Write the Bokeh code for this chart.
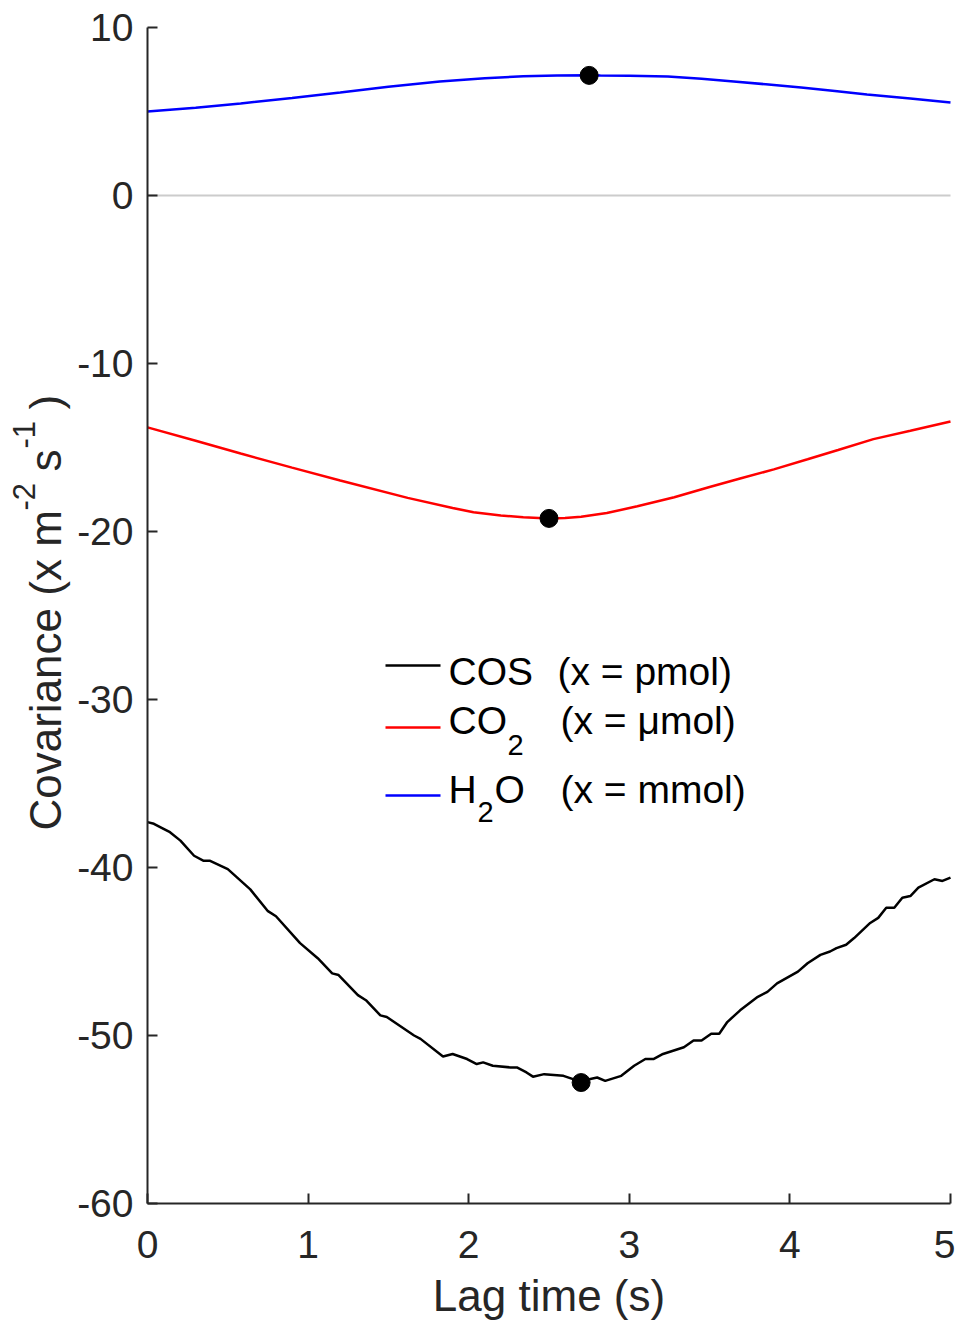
import numpy as np
from bokeh.plotting import figure
from bokeh.models import Range1d, Label, FixedTicker, LinearAxis
from bokeh.embed import file_html
from bokeh.resources import INLINE

# ---------------- data ----------------
lag_cos = [0.00, 0.04, 0.10, 0.14, 0.205, 0.29, 0.35, 0.39, 0.50, 0.64, 0.75, 0.80, 0.95, 1.06,
           1.15, 1.19, 1.31, 1.36, 1.45, 1.49, 1.66, 1.70, 1.84, 1.90, 1.99, 2.05, 2.09, 2.15,
           2.26, 2.30, 2.36, 2.40, 2.47, 2.59, 2.65, 2.70, 2.75, 2.80, 2.85, 2.95, 3.03, 3.10,
           3.15, 3.21, 3.34, 3.40, 3.45, 3.51, 3.56, 3.61, 3.69, 3.80, 3.86, 3.92, 4.05, 4.11,
           4.19, 4.25, 4.29, 4.35, 4.40, 4.50, 4.55, 4.60, 4.65, 4.70, 4.75, 4.80, 4.90, 4.95, 5.00]
cov_cos = [-37.3, -37.4, -37.7, -37.9, -38.4, -39.3, -39.6, -39.6, -40.1, -41.3, -42.6, -42.9, -44.5, -45.4,
           -46.3, -46.4, -47.6, -47.9, -48.8, -48.9, -50.0, -50.2, -51.25, -51.1, -51.4, -51.7, -51.6, -51.8,
           -51.9, -51.9, -52.2, -52.45, -52.3, -52.4, -52.6, -52.75, -52.6, -52.5, -52.7, -52.4, -51.8, -51.4,
           -51.4, -51.1, -50.7, -50.3, -50.3, -49.9, -49.9, -49.2, -48.5, -47.7, -47.4, -46.9, -46.2, -45.7,
           -45.2, -45.0, -44.8, -44.6, -44.2, -43.3, -43.0, -42.4, -42.4, -41.8, -41.7, -41.2, -40.7, -40.8, -40.6]

lag_co2 = [0.00, 0.30, 0.58, 0.90, 1.20, 1.62, 1.90, 2.03, 2.20, 2.34, 2.50, 2.60, 2.70, 2.86,
           3.05, 3.28, 3.50, 3.69, 3.90, 4.11, 4.30, 4.52, 4.75, 5.00]
cov_co2 = [-13.8, -14.6, -15.36, -16.2, -16.96, -18.0, -18.6, -18.85, -19.05, -19.15, -19.22, -19.2, -19.12, -18.9,
           -18.5, -17.96, -17.35, -16.85, -16.3, -15.7, -15.15, -14.5, -14.0, -13.45]

lag_h2o = [0.00, 0.30, 0.58, 0.90, 1.20, 1.50, 1.82, 2.10, 2.34, 2.55, 2.75, 2.82, 3.00, 3.24,
           3.45, 3.65, 3.85, 4.07, 4.28, 4.48, 4.75, 5.00]
cov_h2o = [5.00, 5.23, 5.48, 5.80, 6.13, 6.47, 6.79, 6.98, 7.10, 7.15, 7.16, 7.15, 7.13, 7.08,
           6.95, 6.79, 6.62, 6.43, 6.22, 6.01, 5.78, 5.54]

peak_lag = [2.70, 2.50, 2.75]
peak_cov = [-52.8, -19.22, 7.15]

zero_lag = [0, 5]
zero_cov = [0, 0]

x_ticks = [0, 1, 2, 3, 4, 5]
y_ticks = [-60, -50, -40, -30, -20, -10, 0, 10]
x_lim = (0, 5)
y_lim = (-60, 10)

# ---------------- layout ----------------
FONT = "Liberation Sans"
AX = "#262626"
W, H = 955, 1322
# frame pixel box of the axes (page pixels)
PX0, PX1, PY0, PY1 = 147, 950, 27, 1203

sx = (PX1 - PX0) / (x_lim[1] - x_lim[0])
sy = (PY1 - PY0) / (y_lim[1] - y_lim[0])
xr = Range1d(x_lim[0] - PX0 / sx, x_lim[1] + (W - PX1) / sx)
yr = Range1d(y_lim[0] - (H - PY1) / sy, y_lim[1] + PY0 / sy)

p = figure(width=W, height=H, output_backend="svg", toolbar_location=None,
           x_range=xr, y_range=yr, x_axis_location=None, y_axis_location=None,
           min_border_left=0, min_border_right=0, min_border_top=0, min_border_bottom=0)
p.outline_line_color = None
p.grid.visible = False
p.background_fill_color = "white"
p.border_fill_color = "white"

xaxis = LinearAxis(fixed_location=y_lim[0], bounds=x_lim, ticker=FixedTicker(ticks=x_ticks))
yaxis = LinearAxis(fixed_location=x_lim[0], bounds=y_lim, ticker=FixedTicker(ticks=y_ticks))
for ax in (xaxis, yaxis):
    ax.axis_line_color = AX
    ax.axis_line_width = 2
    ax.major_tick_line_color = AX
    ax.major_tick_line_width = 2
    ax.major_tick_in = 10
    ax.major_tick_out = 0
    ax.minor_tick_line_color = None
    ax.major_label_text_font = FONT
    ax.major_label_text_font_size = "39px"
    ax.major_label_text_color = AX
    ax.axis_label_text_font = FONT
    ax.axis_label_text_font_style = "normal"
    ax.axis_label_text_color = AX
yaxis.major_label_overrides = {t: str(t) for t in y_ticks}
xaxis.major_label_overrides = {t: str(t) for t in x_ticks}
xaxis.major_label_standoff = 27
yaxis.major_label_standoff = 14
xaxis.axis_label = "Lag time (s)"
xaxis.axis_label_text_font_size = "44px"
xaxis.axis_label_standoff = 10
p.add_layout(xaxis, "below")
p.add_layout(yaxis, "left")

# zero line
p.line(zero_lag, zero_cov, line_color="#cccccc", line_width=2)

# data lines
p.line(lag_h2o, cov_h2o, line_color="#0000ff", line_width=2.5)
p.line(lag_co2, cov_co2, line_color="#ff0000", line_width=2.5)
p.line(lag_cos, cov_cos, line_color="black", line_width=2.5)
p.scatter(peak_lag, peak_cov, size=18, color="black")

# pixel helpers (page pixel -> data) for annotation placement
def X(px):
    return x_lim[0] + (px - PX0) / sx
def Y(py):
    return y_lim[1] - (py - PY0) / sy

# legend (built by hand for the sub-scripts)
LF, SF = 39, 29
leg_rows = [
    ("black", 665, [("COS", 448, 671, LF), ("(x = pmol)", 557, 671, LF)]),
    ("#ff0000", 727, [("CO", 448, 720, LF), ("2", 507, 744, SF), ("(x = μmol)", 560, 720, LF)]),
    ("#0000ff", 795, [("H", 448, 789, LF), ("2", 477, 811, SF), ("O", 494, 789, LF), ("(x = mmol)", 560, 789, LF)]),
]
for col, ly, items in leg_rows:
    p.segment(x0=[X(385)], y0=[Y(ly)], x1=[X(440)], y1=[Y(ly)], line_color=col, line_width=2.5)
    for t, tx, ty, fs in items:
        p.add_layout(Label(x=X(tx), y=Y(ty), text=t, text_font=FONT, text_font_size=f"{fs}px",
                           text_color="black", text_align="left", text_baseline="middle"))

# y axis label composed of pieces (rotated, with raised exponents)
ylab = [("Covariance (x m", 45, 830, 44), ("-2", 23, 510, 31), ("s", 45, 471, 44),
        ("-1", 23, 448, 31), (")", 45, 409, 44)]
for t, lx, ly, fs in ylab:
    p.add_layout(Label(x=X(lx), y=Y(ly), text=t, text_font=FONT, text_font_size=f"{fs}px",
                       text_color=AX, text_align="left", text_baseline="middle", angle=np.pi / 2))

open("out.html", "w").write(file_html(p, INLINE))
